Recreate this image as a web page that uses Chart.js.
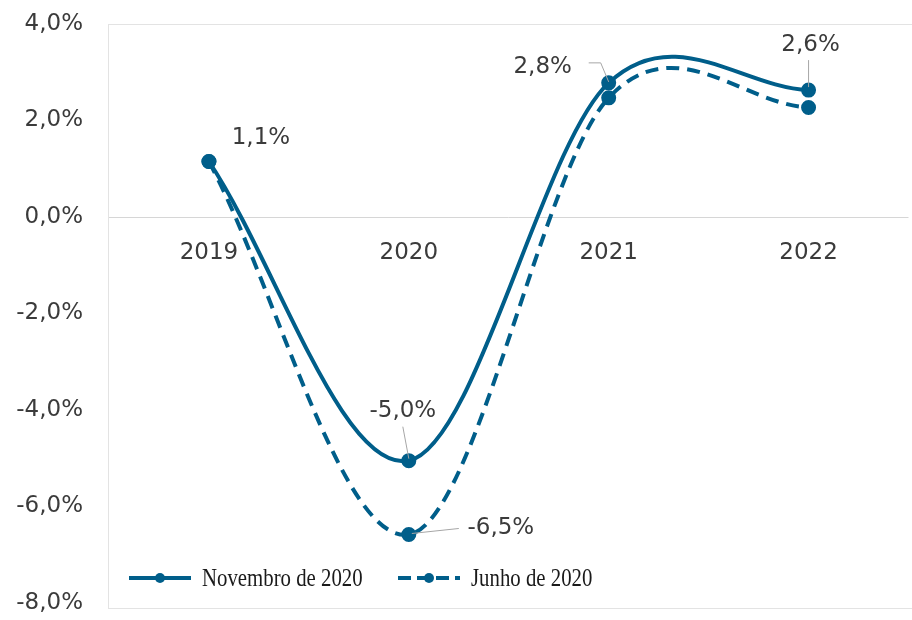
<!DOCTYPE html>
<html>
<head>
  <meta charset="utf-8">
  <title>Novembro vs Junho de 2020</title>
  <script src="https://cdn.jsdelivr.net/npm/chart.js"></script>
  <style>
    html, body { margin: 0; padding: 0; background: #fff; overflow: hidden; }
    .wrap { width: 918px; height: 620px; position: relative; }
  </style>
</head>
<body>
<div class="wrap"><canvas id="chart"></canvas></div>

<script>
  // data
  const years = ['2019', '2020', '2021', '2022'];
  const novembro = [1.15, -5.05, 2.78, 2.63];
  const junho = [1.15, -6.58, 2.47, 2.27];
  const novembroLabels = ['1,1%', '-5,0%', '2,8%', '2,6%'];
  const junhoLabels = [null, '-6,5%', null, null];
  const seriesNames = ['Novembro de 2020', 'Junho de 2020'];

  const blue = '#005e8a';
  const labelFont = '23px "DejaVu Sans", sans-serif';

  const fmt = v => v.toFixed(1).replace('.', ',') + '%';

  // Excel-like smoothing: handles are 1/6 of the neighbour span, 1/3 at the ends
  const smoothPlugin = {
    id: 'excelSmooth',
    beforeDatasetDraw(chart, args) {
      const line = args.meta.dataset;
      line.updateControlPoints(chart.chartArea);
      const pts = args.meta.data;
      const n = pts.length;
      pts.forEach((p, i) => {
        let dx, dy;
        if (i === 0) { dx = (pts[1].x - p.x) / 3; dy = (pts[1].y - p.y) / 3; }
        else if (i === n - 1) { dx = (p.x - pts[i - 1].x) / 3; dy = (p.y - pts[i - 1].y) / 3; }
        else { dx = (pts[i + 1].x - pts[i - 1].x) / 6; dy = (pts[i + 1].y - pts[i - 1].y) / 6; }
        p.cp1x = p.x - dx; p.cp1y = p.y - dy;
        p.cp2x = p.x + dx; p.cp2y = p.y + dy;
      });
    }
  };

  // frame round the plot area
  const framePlugin = {
    id: 'frame',
    beforeDraw(chart) {
      const { ctx, chartArea: a } = chart;
      ctx.save();
      ctx.strokeStyle = '#e3e3e3';
      ctx.lineWidth = 1;
      ctx.strokeRect(a.left - 0.5, a.top + 0.5, a.right - a.left + 20, a.bottom - a.top + 5);
      ctx.restore();
    }
  };

  // data labels with leader lines, offsets in px from the point
  const labelSpots = [
    [{ dx: 52, dy: -23 }, { dx: -6, dy: -50, lead: [[-6, -34], [0, -2]] },
     { dx: -66, dy: -16, lead: [[-20, -20], [-8, -20], [0, -1]] },
     { dx: 2, dy: -45, lead: [[0, -30], [0, -3]] }],
    [null, { dx: 92, dy: -6, lead: [[50, -6], [3, -1]] }, null, null]
  ];
  const labelsPlugin = {
    id: 'pointLabels',
    afterDatasetsDraw(chart) {
      const { ctx } = chart;
      const texts = [novembroLabels, junhoLabels];
      ctx.save();
      ctx.font = labelFont;
      ctx.fillStyle = '#3b3b3b';
      ctx.textAlign = 'center';
      ctx.textBaseline = 'middle';
      texts.forEach((arr, di) => {
        const meta = chart.getDatasetMeta(di);
        arr.forEach((t, i) => {
          const spot = labelSpots[di][i];
          if (!t || !spot) return;
          const p = meta.data[i];
          if (spot.lead) {
            ctx.beginPath();
            ctx.strokeStyle = '#a6a6a6';
            ctx.lineWidth = 1;
            spot.lead.forEach(([lx, ly], k) => {
              if (k === 0) ctx.moveTo(p.x + lx, p.y + ly);
              else ctx.lineTo(p.x + lx, p.y + ly);
            });
            ctx.stroke();
          }
          ctx.fillText(t, p.x + spot.dx, p.y + spot.dy);
        });
      });
      ctx.restore();
    }
  };

  // legend sitting inside the plot, near the bottom
  const legendPlugin = {
    id: 'innerLegend',
    afterDraw(chart) {
      const { ctx, chartArea: a } = chart;
      const y = a.bottom - 25;
      const starts = [a.left + 20, a.left + 289];
      ctx.save();
      chart.data.datasets.forEach((ds, i) => {
        const x = starts[i];
        ctx.strokeStyle = ds.borderColor;
        ctx.lineWidth = 4;
        ctx.setLineDash(i === 1 ? [13, 6] : []);
        ctx.beginPath();
        ctx.moveTo(x, y);
        ctx.lineTo(x + 62, y);
        ctx.stroke();
        ctx.setLineDash([]);
        ctx.fillStyle = ds.borderColor;
        ctx.beginPath();
        ctx.arc(x + 31, y, 5, 0, Math.PI * 2);
        ctx.fill();
        // condensed serif look
        ctx.save();
        ctx.translate(x + 73, y + 1);
        ctx.scale(0.8, 1);
        ctx.fillStyle = '#1a1a1a';
        ctx.font = '26px "Liberation Serif", serif';
        ctx.textBaseline = 'middle';
        ctx.textAlign = 'left';
        ctx.fillText(ds.label, 0, 0);
        ctx.restore();
      });
      ctx.restore();
    }
  };

  new Chart(document.getElementById('chart').getContext('2d'), {
    type: 'line',
    data: {
      labels: years,
      datasets: [
        {
          label: seriesNames[0],
          data: novembro,
          borderColor: blue,
          backgroundColor: blue,
          borderWidth: 4,
          tension: 0.4,
          pointRadius: 5.5,
          pointHoverRadius: 5.5,
          fill: false
        },
        {
          label: seriesNames[1],
          data: junho,
          borderColor: blue,
          backgroundColor: blue,
          borderWidth: 4,
          borderDash: [13, 8],
          tension: 0.4,
          pointRadius: 5.5,
          pointHoverRadius: 5.5,
          fill: false
        }
      ]
    },
    options: {
      responsive: true,
      maintainAspectRatio: false,
      animation: false,
      layout: { padding: { top: 24, bottom: 17, right: 2, left: 0 } },
      plugins: { legend: { display: false }, tooltip: { enabled: false } },
      scales: {
        x: {
          offset: true,
          position: { y: 0 },
          afterFit: s => { s.height = 0; s.paddingLeft = 0; s.paddingRight = 0; },
          grid: { display: false, drawTicks: false },
          border: { display: false },
          ticks: { padding: 22, color: '#3b3b3b', font: { family: '"DejaVu Sans", sans-serif', size: 23 } }
        },
        y: {
          min: -8,
          max: 4,
          afterFit: s => { s.width = 109; s.paddingTop = 0; s.paddingBottom = 0; },
          grid: {
            drawTicks: false,
            color: c => c.tick && c.tick.value === 0 ? '#d6d6d6' : 'rgba(0,0,0,0)'
          },
          border: { display: false },
          ticks: {
            stepSize: 2,
            padding: 26,
            color: '#3b3b3b',
            font: { family: '"DejaVu Sans", sans-serif', size: 23 },
            callback: v => fmt(v)
          }
        }
      }
    },
    plugins: [smoothPlugin, framePlugin, labelsPlugin, legendPlugin]
  });
</script>
</body>
</html>
